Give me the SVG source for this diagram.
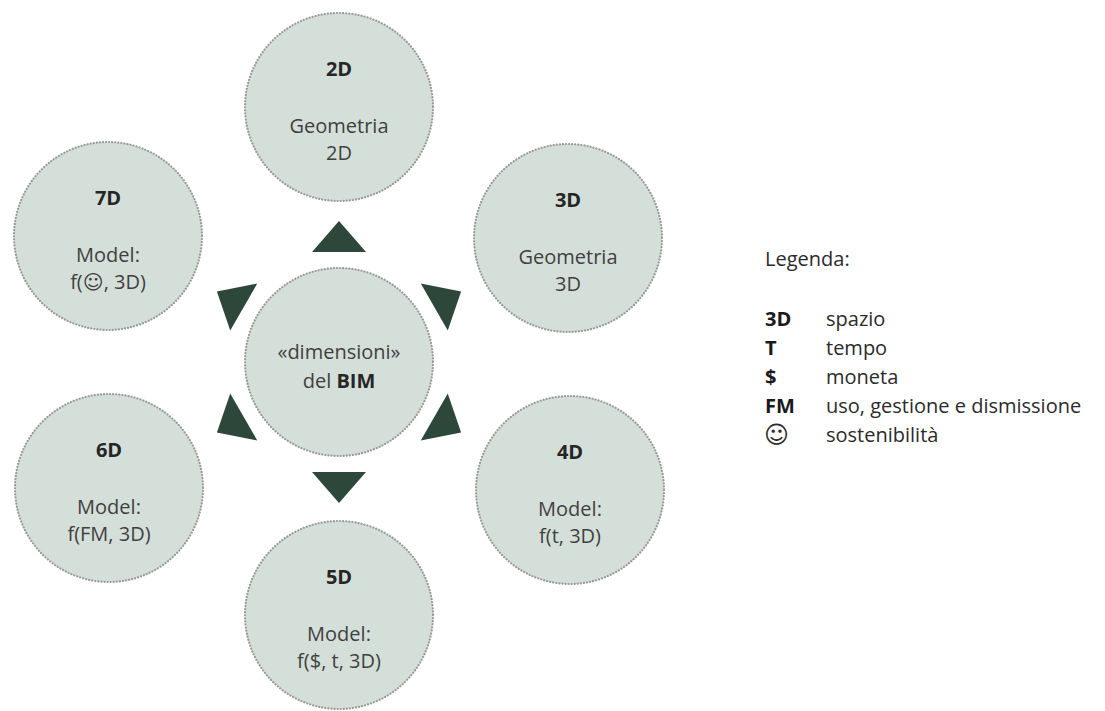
<svg xmlns="http://www.w3.org/2000/svg" width="1105" height="711" viewBox="0 0 1105 711">
<style>
.c{fill:#d5dfd9;stroke:#979a97;stroke-width:2.2;stroke-dasharray:0.1 3;stroke-linecap:round}
.t{font-family:"Open Sans","Noto Sans",sans-serif;font-size:20px;font-weight:700;fill:#262626;text-anchor:middle}
.l{font-family:"Open Sans","Noto Sans",sans-serif;font-size:20px;fill:#3f3f3f;text-anchor:middle}
.s{font-family:"DejaVu Sans",sans-serif}
.tri{fill:#2e473b}
.g{font-family:"Open Sans","Noto Sans",sans-serif;font-size:20px;fill:#2b2b2b}
.gb{font-family:"Open Sans","Noto Sans",sans-serif;font-size:20px;font-weight:700;fill:#1a1a1a}
.sm{font-family:"DejaVu Sans",sans-serif;font-size:24px;fill:#2b2b2b}
</style>
<rect width="1105" height="711" fill="#ffffff"/>
<g id="connectors">
<polygon class="tri" points="312,252 366,252 339,221"/>
<polygon class="tri" points="312,252 366,252 339,221" transform="rotate(60 339 362)"/>
<polygon class="tri" points="312,252 366,252 339,221" transform="rotate(120 339 362)"/>
<polygon class="tri" points="312,252 366,252 339,221" transform="rotate(180 339 362)"/>
<polygon class="tri" points="312,252 366,252 339,221" transform="rotate(240 339 362)"/>
<polygon class="tri" points="312,252 366,252 339,221" transform="rotate(300 339 362)"/>
</g>
<g id="center">
<circle class="c" cx="339" cy="362" r="94"/>
<text class="l" x="339" y="359">«dimensioni»</text>
<text class="l" x="339" y="388">del <tspan font-weight="700" fill="#262626">BIM</tspan></text>
</g>
<g id="n2D">
<circle class="c" cx="339" cy="107" r="94"/>
<text class="t" x="339" y="76">2D</text>
<text class="l" x="339" y="133">Geometria</text>
<text class="l" x="339" y="160">2D</text>
</g>
<g id="n3D">
<circle class="c" cx="568" cy="238" r="94"/>
<text class="t" x="568" y="207">3D</text>
<text class="l" x="568" y="264">Geometria</text>
<text class="l" x="568" y="291">3D</text>
</g>
<g id="n4D">
<circle class="c" cx="570" cy="490" r="94"/>
<text class="t" x="570" y="459">4D</text>
<text class="l" x="570" y="516">Model:</text>
<text class="l" x="570" y="543">f(t, 3D)</text>
</g>
<g id="n5D">
<circle class="c" cx="339" cy="615" r="94"/>
<text class="t" x="339" y="584">5D</text>
<text class="l" x="339" y="641">Model:</text>
<text class="l" x="339" y="668">f($, t, 3D)</text>
</g>
<g id="n6D">
<circle class="c" cx="109" cy="488" r="94"/>
<text class="t" x="109" y="457">6D</text>
<text class="l" x="109" y="514">Model:</text>
<text class="l" x="109" y="541">f(FM, 3D)</text>
</g>
<g id="n7D">
<circle class="c" cx="108" cy="236" r="94"/>
<text class="t" x="108" y="205">7D</text>
<text class="l" x="108" y="262">Model:</text>
<text class="l" x="108" y="289">f(<tspan class="s">☺</tspan>, 3D)</text>
</g>
<g id="legend">
<text class="g" x="765" y="266">Legenda:</text>
<text class="gb" x="765" y="326">3D</text><text class="g" x="826" y="326">spazio</text>
<text class="gb" x="765" y="355">T</text><text class="g" x="826" y="355">tempo</text>
<text class="gb" x="765" y="384">$</text><text class="g" x="826" y="384">moneta</text>
<text class="gb" x="765" y="413">FM</text><text class="g" x="826" y="413">uso, gestione e dismissione</text>
<text class="sm" x="764" y="443">☺</text><text class="g" x="826" y="442">sostenibilità</text>
</g>
</svg>
